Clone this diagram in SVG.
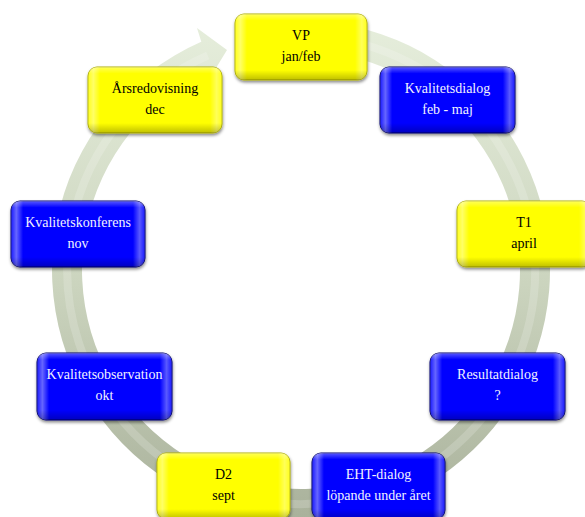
<svg xmlns="http://www.w3.org/2000/svg" width="585" height="517" viewBox="0 0 585 517">
<defs>
  <linearGradient id="ringGrad" gradientUnits="userSpaceOnUse" x1="0" y1="20" x2="0" y2="520">
    <stop offset="0" stop-color="#e6eedc"/>
    <stop offset="0.5" stop-color="#cdd6c0"/>
    <stop offset="1" stop-color="#a9b19b"/>
  </linearGradient>
  <linearGradient id="bevelH" x1="0" y1="0" x2="1" y2="0">
    <stop offset="0" stop-color="#ffffff" stop-opacity="0.1"/>
    <stop offset="0.04" stop-color="#ffffff" stop-opacity="0.4"/>
    <stop offset="0.09" stop-color="#ffffff" stop-opacity="0"/>
    <stop offset="0.91" stop-color="#ffffff" stop-opacity="0"/>
    <stop offset="0.96" stop-color="#ffffff" stop-opacity="0.35"/>
    <stop offset="1" stop-color="#ffffff" stop-opacity="0.1"/>
  </linearGradient>
  <linearGradient id="bevelV" x1="0" y1="0" x2="0" y2="1">
    <stop offset="0" stop-color="#ffffff" stop-opacity="0.35"/>
    <stop offset="0.1" stop-color="#ffffff" stop-opacity="0"/>
    <stop offset="0.85" stop-color="#000000" stop-opacity="0"/>
    <stop offset="1" stop-color="#000000" stop-opacity="0.25"/>
  </linearGradient>
  <filter id="shadow" x="-10%" y="-10%" width="120%" height="130%">
    <feDropShadow dx="0.5" dy="2" stdDeviation="1.5" flood-color="#000000" flood-opacity="0.45"/>
  </filter>
</defs>
<style>
  .box { stroke-width: 1; filter: url(#shadow); }
  .yellow { fill: #ffff00; stroke: #b0b000; }
  .blue { fill: #0000ff; stroke: #000070; }
  .bh { fill: url(#bevelH); stroke: none; }
  .bv { fill: url(#bevelV); stroke: none; }
  text { font-family: "Liberation Serif", "DejaVu Serif", serif; font-size: 14px; text-anchor: middle; }
  .dark { fill: #000000; }
  .light { fill: #f2f2ff; }
</style>

<g id="connectors">
  <path id="cycle-arrow" fill="url(#ringGrad)"
    d="M 322.7 21.9 A 249 249 0 1 1 201.3 41.8 L 197 28 L 227 50 L 205 86 L 213.3 69.3 A 219 219 0 1 0 320.1 51.8 Z"/>
  <path d="M 321.4 36.9 A 234 234 0 1 1 207.8 55.5" fill="none" stroke="#ffffff" stroke-opacity="0.18" stroke-width="8"/>
</g>

<g id="node-vp">
  <rect class="box yellow" x="235" y="14" width="132" height="66" rx="9"/>
  <rect class="bh" x="235" y="14" width="132" height="66" rx="9"/>
  <rect class="bv" x="235" y="14" width="132" height="66" rx="9"/>
  <text class="dark" x="301" y="40">VP</text>
  <text class="dark" x="301" y="61">jan/feb</text>
</g>

<g id="node-kvalitetsdialog">
  <rect class="box blue" x="380" y="67" width="135" height="66" rx="9"/>
  <rect class="bh" x="380" y="67" width="135" height="66" rx="9"/>
  <rect class="bv" x="380" y="67" width="135" height="66" rx="9"/>
  <text class="light" x="447.5" y="93">Kvalitetsdialog</text>
  <text class="light" x="447.5" y="114">feb - maj</text>
</g>

<g id="node-t1">
  <rect class="box yellow" x="457" y="201" width="134" height="66" rx="9"/>
  <rect class="bh" x="457" y="201" width="134" height="66" rx="9"/>
  <rect class="bv" x="457" y="201" width="134" height="66" rx="9"/>
  <text class="dark" x="524" y="227">T1</text>
  <text class="dark" x="524" y="248">april</text>
</g>

<g id="node-resultatdialog">
  <rect class="box blue" x="430" y="353" width="135" height="67" rx="9"/>
  <rect class="bh" x="430" y="353" width="135" height="67" rx="9"/>
  <rect class="bv" x="430" y="353" width="135" height="67" rx="9"/>
  <text class="light" x="497.5" y="379">Resultatdialog</text>
  <text class="light" x="497.5" y="400">?</text>
</g>

<g id="node-eht">
  <rect class="box blue" x="312" y="453" width="133" height="66" rx="9"/>
  <rect class="bh" x="312" y="453" width="133" height="66" rx="9"/>
  <rect class="bv" x="312" y="453" width="133" height="66" rx="9"/>
  <text class="light" x="378.5" y="479">EHT-dialog</text>
  <text class="light" x="378.5" y="500">löpande under året</text>
</g>

<g id="node-d2">
  <rect class="box yellow" x="157" y="453" width="133" height="66" rx="9"/>
  <rect class="bh" x="157" y="453" width="133" height="66" rx="9"/>
  <rect class="bv" x="157" y="453" width="133" height="66" rx="9"/>
  <text class="dark" x="223.5" y="479">D2</text>
  <text class="dark" x="223.5" y="500">sept</text>
</g>

<g id="node-kvalitetsobservation">
  <rect class="box blue" x="37" y="353" width="135" height="67" rx="9"/>
  <rect class="bh" x="37" y="353" width="135" height="67" rx="9"/>
  <rect class="bv" x="37" y="353" width="135" height="67" rx="9"/>
  <text class="light" x="104.5" y="379">Kvalitetsobservation</text>
  <text class="light" x="104.5" y="400">okt</text>
</g>

<g id="node-kvalitetskonferens">
  <rect class="box blue" x="11" y="201" width="134" height="66" rx="9"/>
  <rect class="bh" x="11" y="201" width="134" height="66" rx="9"/>
  <rect class="bv" x="11" y="201" width="134" height="66" rx="9"/>
  <text class="light" x="78" y="227">Kvalitetskonferens</text>
  <text class="light" x="78" y="248">nov</text>
</g>

<g id="node-arsredovisning">
  <rect class="box yellow" x="88" y="67" width="134" height="66" rx="9"/>
  <rect class="bh" x="88" y="67" width="134" height="66" rx="9"/>
  <rect class="bv" x="88" y="67" width="134" height="66" rx="9"/>
  <text class="dark" x="155" y="93">Årsredovisning</text>
  <text class="dark" x="155" y="114">dec</text>
</g>
</svg>
